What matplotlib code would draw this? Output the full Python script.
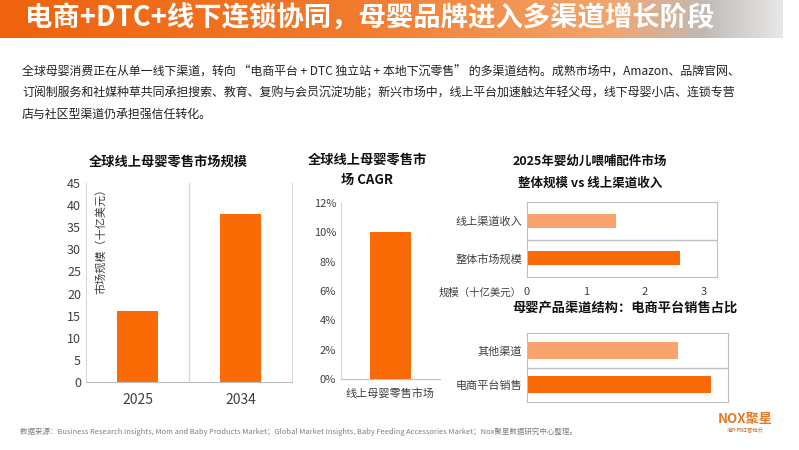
import numpy as np
import matplotlib
matplotlib.use("Agg")
import matplotlib.pyplot as plt
from matplotlib.colors import LinearSegmentedColormap

plt.rcParams['font.family'] = ['Noto Sans CJK SC', 'DejaVu Sans']

# data
years = ["2025", "2034"]
market_size = [16, 38]          # 十亿美元

cagr_labels = ["线上母婴零售市场"]
cagr_values = [10]              # %

feeding_labels = ["整体市场规模", "线上渠道收入"]
feeding_values = [2.6, 1.5]     # 十亿美元

channel_labels = ["电商平台销售", "其他渠道"]
channel_values = [55, 45]       # %

DARK = "#FA6A05"
LIGHT = "#F9A46C"
GRID = "#D9D9D9"
TXT = "#404040"

fig = plt.figure(figsize=(7.99, 4.5), dpi=100)

# header gradient bar
hdr = fig.add_axes([0, 1 - 38 / 450, 783 / 799, 38 / 450])
cmap = LinearSegmentedColormap.from_list(
    "hdr", [(0, "#F0620C"), (0.45, "#F27A2C"), (0.78, "#F3A56C"),
            (0.9, "#C0BAB5"), (1, "#E6E6E6")])
hdr.imshow(np.linspace(0, 1, 400)[None, :], aspect="auto", cmap=cmap,
           extent=[0, 1, 0, 1])
hdr.set_axis_off()
fig.text(25 / 799, 1 - 19 / 450, "电商+DTC+线下连锁协同，母婴品牌进入多渠道增长阶段",
         fontsize=19.7, fontweight="bold", color="white", va="center")

para = ["全球母婴消费正在从单一线下渠道，转向 “电商平台 + DTC 独立站 + 本地下沉零售” 的多渠道结构。成熟市场中，Amazon、品牌官网、",
        "订阅制服务和社媒种草共同承担搜索、教育、复购与会员沉淀功能；新兴市场中，线上平台加速触达年轻父母，线下母婴小店、连锁专营",
        "店与社区型渠道仍承担强信任转化。"]
for i, line in enumerate(para):
    fig.text(22 / 799, 1 - (72 + i * 21) / 450, line, fontsize=8.6,
             color="#222222", va="center")

# chart 1
ax1 = fig.add_axes([86 / 799, 1 - 382 / 450, 206 / 799, 199 / 450])
x1 = np.arange(len(years))
ax1.bar(x1, market_size, width=0.4, color=DARK)
ax1.set_xlim(-0.5, 1.5)
ax1.set_ylim(0, 45)
ax1.set_yticks(range(0, 46, 5))
ax1.set_xticks(x1)
ax1.set_xticklabels(years, fontsize=10)
ax1.axvline(0.5, color=GRID, lw=1)
ax1.spines["top"].set_visible(False)
for s in ["left", "right"]:
    ax1.spines[s].set_color(GRID)
ax1.spines["bottom"].set_color("#BFBFBF")
ax1.tick_params(length=0, labelsize=9, colors=TXT)
ax1.tick_params(axis="x", pad=8, labelsize=10)
ax1.text(0.07, 1.0, "市场规模（十亿美元）", transform=ax1.transAxes, rotation=90,
         va="top", ha="center", fontsize=8, color=TXT)
fig.text(168 / 799, 1 - 162 / 450, "全球线上母婴零售市场规模", fontsize=9.5,
         fontweight="bold", ha="center", va="center", color="#111111")

# chart 2
ax2 = fig.add_axes([341 / 799, 1 - 379 / 450, 99 / 799, 176 / 450])
ax2.bar([0], cagr_values, width=0.41, color=DARK)
ax2.set_xlim(-0.5, 0.5)
ax2.set_ylim(0, 12)
ax2.set_yticks(range(0, 13, 2))
ax2.set_yticklabels([f"{v}%" for v in range(0, 13, 2)])
ax2.set_xticks([0])
ax2.set_xticklabels(cagr_labels, fontsize=7.6)
for s in ["top", "right"]:
    ax2.spines[s].set_visible(False)
ax2.spines["left"].set_color(GRID)
ax2.spines["bottom"].set_color("#BFBFBF")
ax2.tick_params(length=0, labelsize=8, colors=TXT)
ax2.tick_params(axis="x", pad=7)
fig.text(367 / 799, 1 - 170 / 450, "全球线上母婴零售市\n场 CAGR", fontsize=9.5,
         fontweight="bold", ha="center", va="center", color="#111111",
         linespacing=1.6)

# chart 3
ax3 = fig.add_axes([527 / 799, 1 - 277 / 450, 190 / 799, 75 / 450])
y3 = np.arange(len(feeding_labels))
ax3.barh(y3, feeding_values, height=0.38, color=[DARK, LIGHT])
ax3.set_xlim(0, 3.22)
ax3.set_ylim(-0.5, 1.5)
ax3.set_xticks([0, 1, 2, 3])
ax3.set_yticks(y3)
ax3.set_yticklabels(feeding_labels)
ax3.axhline(0.5, color="#BFBFBF", lw=1)
for s in ax3.spines.values():
    s.set_color("#BFBFBF")
ax3.tick_params(length=0, labelsize=8, colors=TXT)
ax3.tick_params(axis="x", pad=7)
fig.text(522 / 799, 1 - 293 / 450, "规模（十亿美元）", fontsize=7.5, ha="right",
         va="center", color=TXT)
fig.text(590 / 799, 1 - 172 / 450, "2025年婴幼儿喂哺配件市场\n整体规模 vs 线上渠道收入",
         fontsize=9, fontweight="bold", ha="center", va="center",
         color="#111111", linespacing=1.9)

# chart 4
ax4 = fig.add_axes([527 / 799, 1 - 402 / 450, 201 / 799, 69 / 450])
y4 = np.arange(len(channel_labels))
ax4.barh(y4, channel_values, height=0.5, color=[DARK, LIGHT])
ax4.set_xlim(0, 60)
ax4.set_ylim(-0.5, 1.5)
ax4.set_xticks([])
ax4.set_yticks(y4)
ax4.set_yticklabels(channel_labels)
ax4.axhline(0.5, color="#BFBFBF", lw=1)
for s in ax4.spines.values():
    s.set_color("#BFBFBF")
ax4.tick_params(length=0, labelsize=8, colors=TXT)
fig.text(625 / 799, 1 - 308 / 450, "母婴产品渠道结构：电商平台销售占比",
         fontsize=9.5, fontweight="bold", ha="center", va="center",
         color="#111111")

# footer
fig.text(20 / 799, 1 - 432 / 450,
         "数据来源：Business Research Insights, Mom and Baby Products Market；Global Market Insights, "
         "Baby Feeding Accessories Market；Nox聚星数据研究中心整理。",
         fontsize=5.4, color="#7F7F7F", va="center")
fig.text(745 / 799, 1 - 419 / 450, "NOX聚星", fontsize=9.5, fontweight="bold",
         color="#E87722", ha="center", va="center")
fig.text(745 / 799, 1 - 431 / 450, "海外网红营销云", fontsize=3.8,
         color="#C0703A", ha="center", va="center")

fig.savefig("out.png", dpi=100)
